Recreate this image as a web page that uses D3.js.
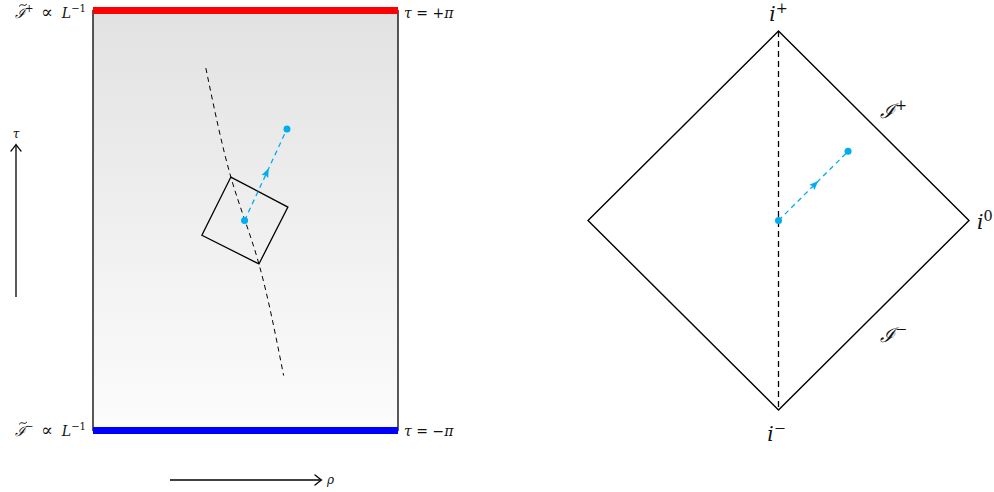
<!DOCTYPE html>
<html>
<head>
<meta charset="utf-8">
<script src="https://cdn.jsdelivr.net/npm/d3@7"></script>
<style>
  body { margin: 0; background: #fff; }
  text { font-family: "DejaVu Serif", serif; font-style: italic; fill: #111; white-space: pre; }
</style>
</head>
<body>
<svg width="994" height="492"></svg>
<script>
// left panel (rho, tau) data
const worldline = [[0.370, 2.28], [0.452, 0.65], [0.544, -0.65], [0.625, -2.32]];
const box = [[0.452, 0.65], [0.639, 0.20], [0.544, -0.65], [0.357, -0.22]];
const signal = [[0.497, 0.0], [0.636, 1.37]];
// right panel (u, v) data, diamond in [-1,1]
const diamond = [[0, 1], [1, 0], [0, -1], [-1, 0]];
const axisLine = [[0, 1], [0, -1]];
const signalR = [[0, 0], [0.365, 0.365]];

const svg = d3.select('svg');
const blue = '#00aeef';
const sp = '\u00A0';

// scales
const xL = d3.scaleLinear().domain([0, 1]).range([93, 398]);
const yL = d3.scaleLinear().domain([-Math.PI, Math.PI]).range([430.5, 10.5]);
const xR = d3.scaleLinear().domain([-1, 1]).range([588, 969]);
const yR = d3.scaleLinear().domain([-1, 1]).range([410, 31]);

const defs = svg.append('defs');
const grad = defs.append('linearGradient').attr('id', 'bg')
  .attr('x1', 0).attr('y1', 0).attr('x2', 0).attr('y2', 1);
grad.append('stop').attr('offset', '0%').attr('stop-color', '#e2e2e2');
grad.append('stop').attr('offset', '100%').attr('stop-color', '#fcfcfc');

// left panel: cylinder strip
svg.append('rect')
  .attr('x', xL(0)).attr('y', yL(Math.PI))
  .attr('width', xL(1) - xL(0)).attr('height', yL(-Math.PI) - yL(Math.PI))
  .attr('fill', 'url(#bg)').attr('stroke', '#000').attr('stroke-width', 1.3);

svg.append('line')
  .attr('x1', xL(0)).attr('x2', xL(1)).attr('y1', yL(Math.PI)).attr('y2', yL(Math.PI))
  .attr('stroke', 'red').attr('stroke-width', 7);
svg.append('line')
  .attr('x1', xL(0)).attr('x2', xL(1)).attr('y1', yL(-Math.PI)).attr('y2', yL(-Math.PI))
  .attr('stroke', 'blue').attr('stroke-width', 7);

const lineL = d3.line().x(d => xL(d[0])).y(d => yL(d[1]));
const lineR = d3.line().x(d => xR(d[0])).y(d => yR(d[1]));

svg.append('path')
  .attr('d', lineL.curve(d3.curveNatural)(worldline))
  .attr('fill', 'none').attr('stroke', '#000').attr('stroke-width', 1)
  .attr('stroke-dasharray', '5,4');

svg.append('path')
  .attr('d', d3.line().x(d => xL(d[0])).y(d => yL(d[1])).curve(d3.curveLinearClosed)(box))
  .attr('fill', 'none').attr('stroke', '#000').attr('stroke-width', 1.3);

// signal with arrow in the middle
function drawSignal(pts, xs, ys) {
  const p0 = [xs(pts[0][0]), ys(pts[0][1])];
  const p1 = [xs(pts[1][0]), ys(pts[1][1])];
  svg.append('line')
    .attr('x1', p0[0]).attr('y1', p0[1]).attr('x2', p1[0]).attr('y2', p1[1])
    .attr('stroke', blue).attr('stroke-width', 1.3).attr('stroke-dasharray', '5,4');
  const ang = Math.atan2(p1[1] - p0[1], p1[0] - p0[0]) * 180 / Math.PI;
  const mx = (p0[0] + p1[0]) / 2 + 3 * Math.cos(ang * Math.PI / 180);
  const my = (p0[1] + p1[1]) / 2 + 3 * Math.sin(ang * Math.PI / 180);
  svg.append('path')
    .attr('d', 'M4,0 L-5,-3.6 L-3.5,0 L-5,3.6 Z')
    .attr('transform', `translate(${mx},${my}) rotate(${ang})`)
    .attr('fill', blue);
  svg.selectAll(null).data([p0, p1]).enter().append('circle')
    .attr('cx', d => d[0]).attr('cy', d => d[1]).attr('r', 3.5).attr('fill', blue);
}
drawSignal(signal, xL, yL);

// axis arrows (tikz "to" style heads)
function arrow(x1, y1, x2, y2) {
  svg.append('line').attr('x1', x1).attr('y1', y1).attr('x2', x2).attr('y2', y2)
    .attr('stroke', '#000').attr('stroke-width', 1.3);
  const ang = Math.atan2(y2 - y1, x2 - x1) * 180 / Math.PI;
  svg.append('path')
    .attr('d', 'M-6,-5 Q-1,-1 0.5,0 Q-1,1 -6,5')
    .attr('transform', `translate(${x2},${y2}) rotate(${ang})`)
    .attr('fill', 'none').attr('stroke', '#000').attr('stroke-width', 1.3)
    .attr('stroke-linecap', 'round');
}
arrow(16, 297, 16, 145);
arrow(170, 480, 321, 480);

function label(x, y, parts, size, anchor) {
  const t = svg.append('text').attr('x', x).attr('y', y)
    .attr('font-size', size).attr('text-anchor', anchor || 'start');
  parts.forEach(p => {
    const s = t.append('tspan').text(p.t);
    if (p.sup) s.attr('dy', -size * 0.4).attr('font-size', size * 0.72);
    if (p.down) s.attr('dy', size * 0.4);
    if (p.up) s.attr('font-style', 'normal');
    if (p.big) s.attr('font-size', size * 1.25);
  });
  return t;
}

label(16, 138, [{t: 'τ'}], 12, 'middle');
label(327, 484, [{t: 'ρ'}], 12, 'start');

label(404, 18, [{t: 'τ'}, {t: sp + '=' + sp + '+', up: true}, {t: 'π'}], 14, 'start');
label(404, 436, [{t: 'τ'}, {t: sp + '=' + sp + '−', up: true}, {t: 'π'}], 14, 'start');

// calligraphic I with tilde (tilde drawn as a small stroke)
function tildeI(y, sign) {
  const t = label(86, y, [{t: 'ℐ'}, {t: sign + sp, sup: true, up: true}, {t: sp, down: true},
    {t: '∝', up: true, big: true}, {t: sp + sp}, {t: 'L'}, {t: '−1', sup: true, up: true}], 14, 'end');
  const bb = t.node().getBBox();
  const tx = bb.x + 4, ty = y - 13;
  svg.append('path')
    .attr('d', `M${tx},${ty + 1.5} Q${tx + 2},${ty - 1.5} ${tx + 4},${ty} T${tx + 8},${ty - 1}`)
    .attr('fill', 'none').attr('stroke', '#111').attr('stroke-width', 0.9);
}
tildeI(18, '+');
tildeI(436, '−');

// right panel: Penrose diagram
svg.append('path')
  .attr('d', lineR.curve(d3.curveLinearClosed)(diamond))
  .attr('fill', 'none').attr('stroke', '#000').attr('stroke-width', 1.4);
svg.append('path')
  .attr('d', d3.line().x(d => xR(d[0])).y(d => yR(d[1]))(axisLine))
  .attr('fill', 'none').attr('stroke', '#000').attr('stroke-width', 1.3)
  .attr('stroke-dasharray', '6,4');
drawSignal(signalR, xR, yR);

label(xR(0), 21, [{t: 'i'}, {t: '+', sup: true, up: true}], 20, 'middle');
label(xR(0) - 2, 441, [{t: 'i'}, {t: '−', sup: true, up: true}], 20, 'middle');
label(977, 229, [{t: 'i'}, {t: '0', sup: true, up: true}], 20, 'start');
label(880, 118, [{t: 'ℐ'}, {t: '+', sup: true, up: true}], 20, 'start');
label(880, 342, [{t: 'ℐ'}, {t: '−', sup: true, up: true}], 20, 'start');
</script>
</body>
</html>
